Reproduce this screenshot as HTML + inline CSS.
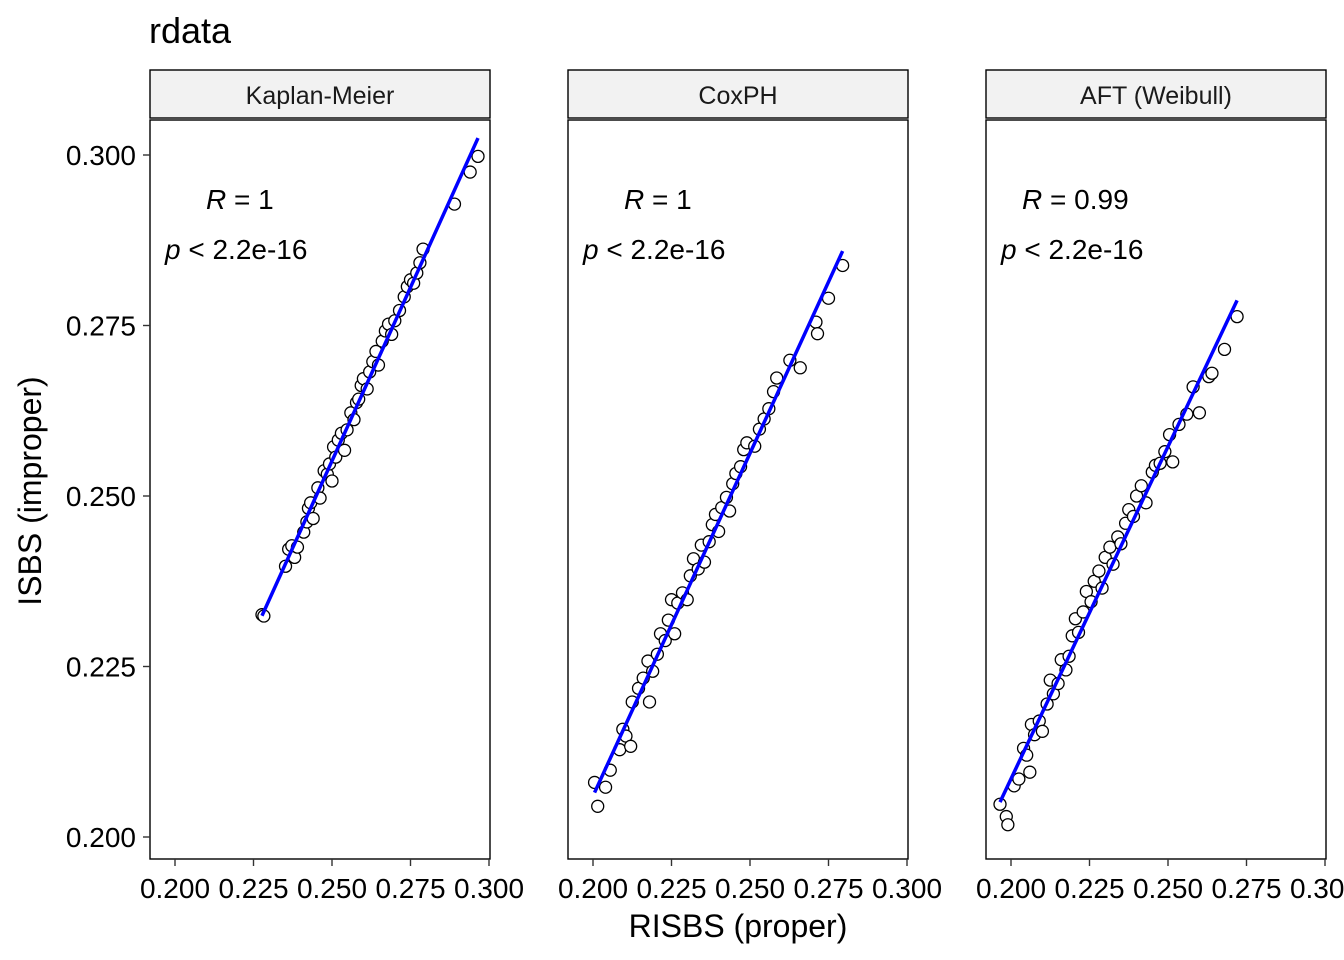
<!DOCTYPE html>
<html><head><meta charset="utf-8"><style>
body{margin:0;background:#fff;}
svg{display:block;font-family:"Liberation Sans",Arial,sans-serif;}
</style></head><body>
<svg id="chart" width="1344" height="960"></svg>
<script>
const panelNames = ["Kaplan-Meier","CoxPH","AFT (Weibull)"];
const rLabels = ["1","1","0.99"];
const pLabels = ["2.2e-16","2.2e-16","2.2e-16"];
const xTicks = [0.200,0.225,0.250,0.275,0.300];
const xTickLabels = ["0.200","0.225","0.250","0.275","0.300"];
const yTicks = [0.200,0.225,0.250,0.275,0.300];
const yTickLabels = ["0.200","0.225","0.250","0.275","0.300"];
const kmPoints = [[0.2277,0.2326],[0.2283,0.2324],[0.2352,0.2397],[0.2362,0.2422],[0.2372,0.2427],[0.2381,0.2410],[0.2390,0.2425],[0.2410,0.2447],[0.2420,0.2462],[0.2425,0.2482],[0.2432,0.2490],[0.2440,0.2467],[0.2455,0.2512],[0.2462,0.2497],[0.2475,0.2537],[0.2485,0.2532],[0.2492,0.2547],[0.2500,0.2522],[0.2505,0.2572],[0.2512,0.2557],[0.2520,0.2582],[0.2530,0.2592],[0.2540,0.2567],[0.2548,0.2597],[0.2560,0.2622],[0.2570,0.2612],[0.2578,0.2637],[0.2585,0.2642],[0.2593,0.2662],[0.2600,0.2672],[0.2612,0.2657],[0.2620,0.2682],[0.2630,0.2697],[0.2640,0.2712],[0.2648,0.2692],[0.2660,0.2727],[0.2670,0.2742],[0.2680,0.2752],[0.2690,0.2737],[0.2700,0.2757],[0.2715,0.2772],[0.2730,0.2792],[0.2740,0.2807],[0.2750,0.2817],[0.2760,0.2812],[0.2770,0.2827],[0.2780,0.2842],[0.2790,0.2862],[0.2890,0.2928],[0.2940,0.2975],[0.2965,0.2998]];
const coxPoints = [[0.2005,0.2080],[0.2015,0.2045],[0.2040,0.2073],[0.2055,0.2098],[0.2085,0.2128],[0.2095,0.2158],[0.2105,0.2148],[0.2120,0.2133],[0.2125,0.2198],[0.2145,0.2218],[0.2160,0.2233],[0.2175,0.2258],[0.2180,0.2198],[0.2190,0.2243],[0.2205,0.2268],[0.2215,0.2298],[0.2230,0.2288],[0.2240,0.2318],[0.2250,0.2348],[0.2260,0.2298],[0.2270,0.2343],[0.2285,0.2358],[0.2300,0.2348],[0.2310,0.2383],[0.2320,0.2408],[0.2335,0.2393],[0.2345,0.2428],[0.2355,0.2403],[0.2370,0.2433],[0.2380,0.2458],[0.2390,0.2473],[0.2400,0.2448],[0.2410,0.2483],[0.2425,0.2498],[0.2435,0.2478],[0.2445,0.2518],[0.2455,0.2533],[0.2470,0.2543],[0.2480,0.2568],[0.2490,0.2578],[0.2515,0.2573],[0.2530,0.2598],[0.2545,0.2613],[0.2560,0.2628],[0.2575,0.2653],[0.2585,0.2673],[0.2627,0.2699],[0.2660,0.2688],[0.2710,0.2755],[0.2715,0.2738],[0.2750,0.2790],[0.2795,0.2838]];
const aftPoints = [[0.1965,0.2048],[0.1985,0.2030],[0.1990,0.2018],[0.2010,0.2075],[0.2025,0.2085],[0.2040,0.2130],[0.2050,0.2120],[0.2060,0.2095],[0.2065,0.2165],[0.2075,0.2150],[0.2090,0.2170],[0.2100,0.2155],[0.2115,0.2195],[0.2125,0.2230],[0.2135,0.2210],[0.2150,0.2225],[0.2160,0.2260],[0.2175,0.2245],[0.2185,0.2265],[0.2195,0.2295],[0.2205,0.2320],[0.2215,0.2300],[0.2230,0.2330],[0.2240,0.2360],[0.2255,0.2345],[0.2265,0.2375],[0.2280,0.2390],[0.2290,0.2365],[0.2300,0.2410],[0.2315,0.2425],[0.2325,0.2400],[0.2340,0.2440],[0.2350,0.2430],[0.2365,0.2460],[0.2375,0.2480],[0.2390,0.2470],[0.2400,0.2500],[0.2415,0.2515],[0.2430,0.2490],[0.2450,0.2535],[0.2460,0.2545],[0.2475,0.2548],[0.2490,0.2565],[0.2505,0.2590],[0.2515,0.2550],[0.2535,0.2605],[0.2560,0.2620],[0.2580,0.2660],[0.2600,0.2622],[0.2630,0.2675],[0.2640,0.2680],[0.2680,0.2715],[0.2720,0.2763]];
const panelData = [kmPoints, coxPoints, aftPoints];

const svg = document.getElementById('chart');
const NS = 'http://www.w3.org/2000/svg';
function mk(tag, attrs, parent, text){
  const e = document.createElementNS(NS, tag);
  for (const k in attrs) e.setAttribute(k, attrs[k]);
  if (text !== undefined) e.textContent = text;
  (parent || svg).appendChild(e);
  return e;
}
const panelLeft = [150, 568, 986];
const panelW = 340, panelTop = 119, panelBottom = 859;
const yScale = v => 155 + (0.300 - v) * 6820;

const title = mk('text', {x:149, y:43, 'font-size':36, fill:'#000'}, svg, 'rdata');



panelNames.forEach((name, i) => {
  const L = panelLeft[i];
  const xScale = v => L + 25 + (v - 0.200) * 3140;
  const g = mk('g', {});
  
  
  const strip = mk('rect', {x:L, y:70, width:panelW, height:48, fill:'#f2f2f2', stroke:'#000', 'stroke-width':1.4}, g);
  
  
  const st = mk('text', {x:L + panelW/2, y:104, 'font-size':25, 'text-anchor':'middle', fill:'#1a1a1a'}, g, name);
  
  
  const box = mk('rect', {x:L, y:panelTop+1, width:panelW, height:panelBottom-panelTop-1, fill:'#fff', stroke:'#000', 'stroke-width':1.4}, g);
  
  

  xTicks.forEach((t, j) => {
    const x = xScale(t);
    mk('line', {x1:x, x2:x, y1:panelBottom, y2:panelBottom+7, stroke:'#333', 'stroke-width':1.4}, g);
    const tl = mk('text', {x:x, y:898, 'font-size':28, 'text-anchor':'middle', fill:'#000'}, g, xTickLabels[j]);
    
    
  });
  if (i === 0) {
    yTicks.forEach((t, j) => {
      const y = yScale(t);
      mk('line', {x1:L-7, x2:L, y1:y, y2:y, stroke:'#333', 'stroke-width':1.4}, g);
      const tl = mk('text', {x:L-14, y:y+10, 'font-size':28, 'text-anchor':'end', fill:'#000'}, g, yTickLabels[j]);
      
      
    });
  }

  const pts = panelData[i];
  pts.forEach(p => {
    const c = mk('circle', {cx:xScale(p[0]), cy:yScale(p[1]), r:6, fill:'#fff', stroke:'#000', 'stroke-width':1.3}, g);
    
    
  });

  const n = pts.length;
  let sx=0, sy=0, sxx=0, sxy=0, mn=Infinity, mx=-Infinity;
  pts.forEach(p => { sx+=p[0]; sy+=p[1]; sxx+=p[0]*p[0]; sxy+=p[0]*p[1]; mn=Math.min(mn,p[0]); mx=Math.max(mx,p[0]); });
  const b = (n*sxy - sx*sy) / (n*sxx - sx*sx), a = (sy - b*sx)/n;
  const fl = mk('line', {x1:xScale(mn), y1:yScale(a+b*mn), x2:xScale(mx), y2:yScale(a+b*mx), stroke:'#0000ff', 'stroke-width':3.5}, g);
  
  

  const rt = mk('text', {x:L+56, y:209, 'font-size':28, fill:'#000'}, g);
  
  
  mk('tspan', {'font-style':'italic'}, rt, 'R');
  mk('tspan', {}, rt, ' = ' + rLabels[i]);
  if (i === 2) rt.setAttribute('x', L+36);
  const pt = mk('text', {x:L+15, y:259, 'font-size':28, fill:'#000'}, g);
  
  
  mk('tspan', {'font-style':'italic'}, pt, 'p');
  mk('tspan', {}, pt, ' < ' + pLabels[i]);
});

const xt = mk('text', {x:738, y:937, 'font-size':32, 'text-anchor':'middle', fill:'#000'}, svg, 'RISBS (proper)');


const yt = mk('text', {x:0, y:0, 'font-size':32, 'text-anchor':'middle', fill:'#000', transform:'translate(41,491) rotate(-90)'}, svg, 'ISBS (improper)');


</script>
</body></html>
